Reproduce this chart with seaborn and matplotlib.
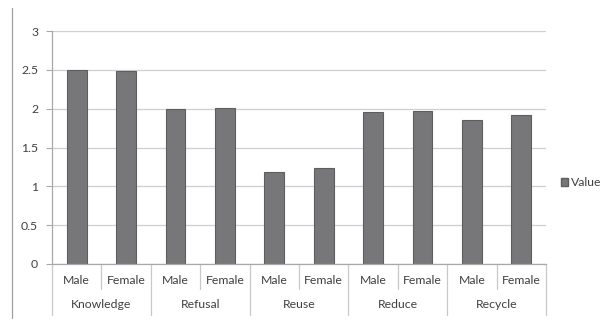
import matplotlib
matplotlib.use("Agg")
import matplotlib.pyplot as plt
import matplotlib.transforms as mtransforms
from matplotlib.lines import Line2D
from matplotlib.patches import Patch
import seaborn as sns
import pandas as pd

groups = ["Knowledge", "Refusal", "Reuse", "Reduce", "Recycle"]
genders = ["Male", "Female"]
values = [2.50, 2.48, 1.99, 2.01, 1.18, 1.23, 1.96, 1.97, 1.85, 1.92]
yticks = [0, 0.5, 1, 1.5, 2, 2.5, 3]
ytick_labels = ["0", "0.5", "1", "1.5", "2", "2.5", "3"]

rows = []
i = 0
for g in groups:
    for s in genders:
        rows.append({"slot": i, "group": g, "gender": s, "Value": values[i]})
        i += 1
df = pd.DataFrame(rows)

sns.set_theme(style="white")
plt.rcParams["font.family"] = ["Lato", "DejaVu Sans"]

fig = plt.figure(figsize=(6.04, 3.2), dpi=100)
ax = fig.add_axes([52/604, 56/320, (546-52)/604, (264-31)/320])

bar_color = "#76777a"
sns.barplot(data=df, x="slot", y="Value", color=bar_color, width=0.4,
            edgecolor="#5e5e60", linewidth=0.8, ax=ax, errorbar=None)

ax.set_ylim(0, 3)
ax.set_xlim(-0.5, len(values) - 0.5)
ax.set_yticks(yticks)
ax.set_yticklabels(ytick_labels, fontsize=8.8, color="#404040")
ax.yaxis.grid(True, color="#cfcfcf", linewidth=0.9)
ax.set_axisbelow(True)
ax.set_xlabel("")
ax.set_ylabel("")
ax.tick_params(axis="y", length=4, color="#a8a8a8", width=0.8, pad=6, left=True)
ax.tick_params(axis="x", length=0, labelbottom=False)
for side in ["top", "right"]:
    ax.spines[side].set_visible(False)
for side in ["left", "bottom"]:
    ax.spines[side].set_color("#a8a8a8")
    ax.spines[side].set_linewidth(0.9)

trans = mtransforms.blended_transform_factory(ax.transData, ax.transAxes)
h_px = 264 - 31
def ay(px):
    return (264 - px) / h_px

for k, row in df.iterrows():
    ax.text(row["slot"], ay(281), row["gender"], transform=trans,
            ha="center", va="center", fontsize=8.8, color="#404040")
for gi, g in enumerate(groups):
    ax.text(gi * 2 + 0.5, ay(305), g, transform=trans,
            ha="center", va="center", fontsize=8.8, color="#404040")

# separators
for gi in range(len(groups) + 1):
    x = gi * 2 - 0.5
    ax.add_line(Line2D([x, x], [0, ay(315)], transform=trans, color="#c8c8c8",
                       linewidth=0.9, clip_on=False))
for gi in range(len(groups)):
    x = gi * 2 + 0.5
    ax.add_line(Line2D([x, x], [0, ay(289)], transform=trans, color="#c8c8c8",
                       linewidth=0.9, clip_on=False))

# left border fragment
fig.add_artist(Line2D([12/604, 12/604], [1 - 8/320, 1 - 318/320],
                      transform=fig.transFigure, color="#a0a0a0", linewidth=0.9))

handle = Patch(facecolor=bar_color, edgecolor="#5e5e60", label="Value")
fig.legend(handles=[handle], loc="center left", bbox_to_anchor=(550/604, 1 - 183/320),
           frameon=False, fontsize=8.8, handlelength=0.6, handleheight=0.6,
           handletextpad=0.2, labelcolor="#404040")

fig.savefig("out.png", dpi=100)
